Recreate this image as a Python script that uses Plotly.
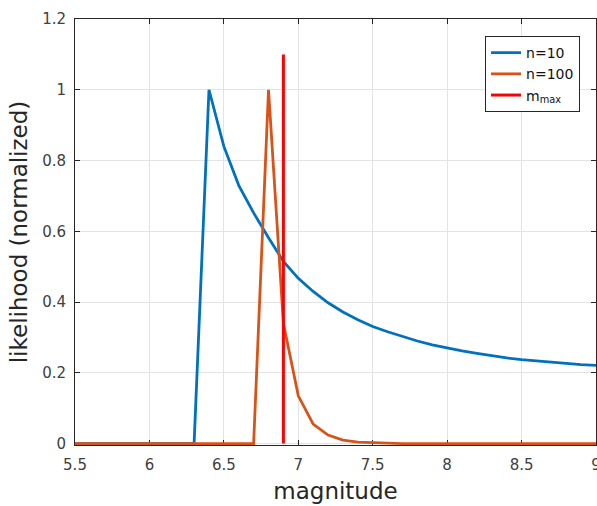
import plotly.graph_objects as go

# magnitude grid (0.1 steps) and normalized likelihoods
magnitude = [round(5.5 + 0.1 * i, 1) for i in range(36)]

like_n10 = [0, 0, 0, 0, 0, 0, 0, 0, 0,
            1.00, 0.84, 0.73, 0.652, 0.582, 0.515, 0.467, 0.430, 0.398,
            0.372, 0.350, 0.331, 0.316, 0.302, 0.290, 0.279, 0.270, 0.262,
            0.255, 0.248, 0.242, 0.237, 0.233, 0.229, 0.226, 0.223, 0.221]

like_n100 = [0, 0, 0, 0, 0, 0, 0, 0, 0,
             0, 0, 0, 0, 1.00, 0.34, 0.135, 0.055, 0.024,
             0.010, 0.004, 0.002, 0.001, 0, 0, 0, 0, 0,
             0, 0, 0, 0, 0, 0, 0, 0, 0]

m_max = 6.9
m_max_line = [0, 1.1]

x_ticks = [5.5, 6, 6.5, 7, 7.5, 8, 8.5, 9]
y_ticks = [0, 0.2, 0.4, 0.6, 0.8, 1, 1.2]

BLUE = "#0072BD"
ORANGE = "#D95319"
RED = "#FF0000"
AX = "#262626"
FONT = "DejaVu Sans"

fig = go.Figure()
fig.add_trace(go.Scatter(x=magnitude, y=like_n10, mode="lines", name="n=10",
                         line=dict(color=BLUE, width=2.8)))
fig.add_trace(go.Scatter(x=magnitude, y=like_n100, mode="lines", name="n=100",
                         line=dict(color=ORANGE, width=2.8)))
fig.add_trace(go.Scatter(x=[m_max, m_max], y=m_max_line, mode="lines",
                         name="m<sub>max</sub>",
                         line=dict(color=RED, width=3)))

axis_common = dict(
    showline=True, linecolor=AX, linewidth=1, mirror="allticks",
    ticks="inside", ticklen=5, tickcolor=AX, tickwidth=1,
    showgrid=True, gridcolor="#e3e3e3", gridwidth=1,
    zeroline=False, tickfont=dict(family=FONT, size=15, color="#404040"),
    layer="below traces", ticklabeloverflow="allow", automargin=False,
)

fig.update_xaxes(range=[5.5, 9], tickvals=x_ticks, ticklabelstandoff=6,
                 title=dict(text="magnitude", font=dict(family=FONT, size=23, color=AX),
                            standoff=9),
                 **axis_common)
fig.update_yaxes(range=[-0.004, 1.2], tickvals=y_ticks, ticklabelstandoff=5,
                 title=dict(text="likelihood (normalized)",
                            font=dict(family=FONT, size=23, color=AX), standoff=8),
                 **axis_common)

fig.update_layout(
    width=597, height=506,
    margin=dict(l=75, r=1, t=19, b=61, autoexpand=False),
    paper_bgcolor="white", plot_bgcolor="white",
    font=dict(family=FONT, color=AX),
    showlegend=True,
    legend=dict(x=0.787, y=0.96, xanchor="left", yanchor="top",
                bgcolor="white", bordercolor=AX, borderwidth=1,
                font=dict(family=FONT, size=14, color="#111"),
                tracegroupgap=0),
)

fig.write_html("out.html")
